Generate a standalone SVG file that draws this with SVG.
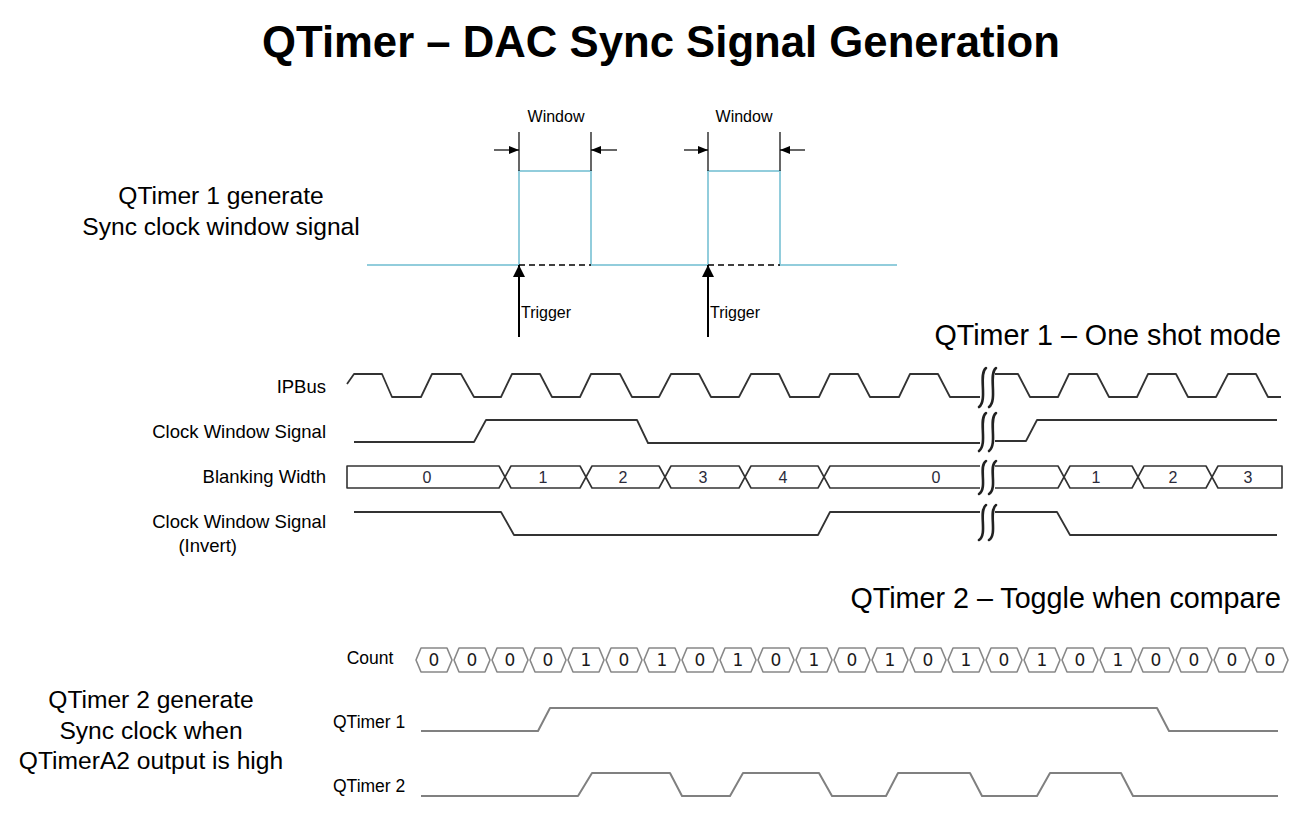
<svg xmlns="http://www.w3.org/2000/svg" width="1300" height="825" viewBox="0 0 1300 825">
<style>
text{font-family:"Liberation Sans",Arial,sans-serif;fill:#000}
.title{font-size:45px;font-weight:bold}
.big{font-size:24.6px;text-anchor:middle}
.mode{font-size:28.7px;text-anchor:end}
.lbl{font-size:18.5px;text-anchor:end}
.small{font-size:16px}
.wave{fill:none;stroke:#333;stroke-width:1.8;stroke-linejoin:round}
.wave2{fill:none;stroke:#808080;stroke-width:2;stroke-linejoin:round}
.hex{fill:#fff;stroke:#333;stroke-width:1.6;stroke-linejoin:round}
.chex{fill:#fff;stroke:#888;stroke-width:1.6;stroke-linejoin:round}
.dig{font-size:16px;text-anchor:middle;font-family:"Liberation Sans",Arial,sans-serif;fill:#2a2a3a}
.cdig{font-size:17px;text-anchor:middle;font-family:"DejaVu Sans",sans-serif;fill:#1a1a1a}
.brk{fill:none;stroke:#222;stroke-width:2.6;stroke-linecap:round}
.blue{fill:none;stroke:#92cddc;stroke-width:2}
.thin{stroke:#000;stroke-width:1.2}
.trig{stroke:#000;stroke-width:2}
</style>
<defs>
<marker id="ah" markerWidth="10" markerHeight="8" refX="10" refY="4" orient="auto" markerUnits="userSpaceOnUse"><path d="M0,0 L10,4 L0,8 Z" fill="#000"/></marker>
<marker id="ahT" markerWidth="12" markerHeight="14" refX="12" refY="6" orient="auto" markerUnits="userSpaceOnUse"><path d="M0,0 L12,6 L0,12 Z" fill="#000"/></marker>
</defs>
<rect width="1300" height="825" fill="#fff"/>

<g id="title"><text class="title" x="661" y="57" text-anchor="middle" textLength="798" lengthAdjust="spacingAndGlyphs">QTimer – DAC Sync Signal Generation</text></g>

<g id="desc1">
<text class="big" x="221" y="204">QTimer 1 generate</text>
<text class="big" x="221" y="235">Sync clock window signal</text>
</g>

<g id="window-signal">
<path class="blue" d="M367,265 H519 V171 H591 V265 H708 V171 H780 V265 H897"/>
<line x1="519" y1="265" x2="591" y2="265" stroke="#000" stroke-width="1.6" stroke-dasharray="6,4"/>
<line x1="708" y1="265" x2="780" y2="265" stroke="#000" stroke-width="1.6" stroke-dasharray="6,4"/>
<line class="thin" x1="519" y1="132" x2="519" y2="171"/>
<line class="thin" x1="591" y1="132" x2="591" y2="171"/>
<line class="thin" x1="708" y1="132" x2="708" y2="171"/>
<line class="thin" x1="780" y1="132" x2="780" y2="171"/>
<text class="small" x="556" y="122" text-anchor="middle">Window</text>
<text class="small" x="744" y="122" text-anchor="middle">Window</text>
</g>

<g id="connectors">
<line class="thin" x1="494" y1="150" x2="519" y2="150" marker-end="url(#ah)"/>
<line class="thin" x1="617" y1="150" x2="591" y2="150" marker-end="url(#ah)"/>
<line class="thin" x1="684" y1="150" x2="708" y2="150" marker-end="url(#ah)"/>
<line class="thin" x1="805" y1="150" x2="780" y2="150" marker-end="url(#ah)"/>
<line class="trig" x1="519" y1="337" x2="519" y2="265" marker-end="url(#ahT)"/>
<line class="trig" x1="708" y1="337" x2="708" y2="265" marker-end="url(#ahT)"/>
</g>
<g id="trigger-labels">
<text class="small" x="521" y="318">Trigger</text>
<text class="small" x="710" y="318">Trigger</text>
</g>

<g id="mode1"><text class="mode" x="1281" y="345">QTimer 1 – One shot mode</text></g>

<g id="labels1">
<text class="lbl" x="326" y="393">IPBus</text>
<text class="lbl" x="326" y="438">Clock Window Signal</text>
<text class="lbl" x="326" y="483">Blanking Width</text>
<text class="lbl" x="326" y="528">Clock Window Signal</text>
<text class="lbl" x="237" y="552" text-anchor="middle">(Invert)</text>
</g>

<g id="ipbus">
<path class="wave" d="M347,384 L354,374 L382,374 L392,397 L421,397 L432,374 L461,374 L474,397 L501,397 L512,374 L540,374 L552,397 L580,397 L591,374 L620,374 L632,397 L659,397 L671,374 L699,374 L711,397 L739,397 L751,374 L779,374 L790,397 L819,397 L830,374 L858,374 L870,397 L899,397 L910,374 L938,374 L950,397 L980,397"/>
<path class="wave" d="M995,374 L1018,374 L1030,397 L1058,397 L1069,374 L1097,374 L1109,397 L1137,397 L1148,374 L1176,374 L1188,397 L1216,397 L1228,374 L1256,374 L1268,397 L1281,397"/>
</g>

<g id="clock-window">
<path class="wave" d="M354,442 L474,442 L486,420 L637,420 L648,443 L980,443"/>
<path class="wave" d="M995,441 L1026,441 L1037,420 L1277,420"/>
</g>

<g id="blanking">
<path class="hex" d="M347,466 L499,466 L505,477 L499,488 L347,488 Z"/>
<path class="hex" d="M505,477 L511,466 L580,466 L586,477 L580,488 L511,488 Z"/>
<path class="hex" d="M586,477 L592,466 L659,466 L665,477 L659,488 L592,488 Z"/>
<path class="hex" d="M665,477 L671,466 L739,466 L745,477 L739,488 L671,488 Z"/>
<path class="hex" d="M745,477 L751,466 L818,466 L824,477 L818,488 L751,488 Z"/>
<path class="hex" d="M980,466 L830,466 L824,477 L830,488 L980,488"/>
<path class="hex" d="M995,466 L1058,466 L1064,477 L1058,488 L995,488"/>
<path class="hex" d="M1064,477 L1070,466 L1132,466 L1138,477 L1132,488 L1070,488 Z"/>
<path class="hex" d="M1138,477 L1144,466 L1206,466 L1212,477 L1206,488 L1144,488 Z"/>
<path class="hex" d="M1212,477 L1218,466 L1282,466 L1282,488 L1218,488 Z"/>
<text class="dig" x="427" y="483">0</text>
<text class="dig" x="543" y="483">1</text>
<text class="dig" x="623" y="483">2</text>
<text class="dig" x="703" y="483">3</text>
<text class="dig" x="783" y="483">4</text>
<text class="dig" x="936" y="483">0</text>
<text class="dig" x="1096" y="483">1</text>
<text class="dig" x="1173" y="483">2</text>
<text class="dig" x="1248" y="483">3</text>
</g>

<g id="clock-window-invert">
<path class="wave" d="M354,512 L501,512 L514,535 L818,535 L830,512 L980,512"/>
<path class="wave" d="M995,512 L1057,512 L1070,535 L1277,535"/>
</g>

<g id="break-marks">
<path class="brk" d="M986,368 C978,374 988,400 979,407"/>
<path class="brk" d="M996,368 C988,374 998,400 989,407"/>
<path class="brk" d="M986,413 C978,419 988,444 979,451"/>
<path class="brk" d="M996,413 C988,419 998,444 989,451"/>
<path class="brk" d="M986,461 C978,466 988,488 979,494"/>
<path class="brk" d="M996,461 C988,466 998,488 989,494"/>
<path class="brk" d="M986,505 C978,511 988,534 979,540"/>
<path class="brk" d="M996,505 C988,511 998,534 989,540"/>
</g>

<g id="mode2"><text class="mode" x="1281" y="608">QTimer 2 – Toggle when compare</text></g>

<g id="desc2">
<text class="big" x="151" y="708">QTimer 2 generate</text>
<text class="big" x="151" y="739">Sync clock when</text>
<text class="big" x="151" y="769">QTimerA2 output is high</text>
</g>

<g id="labels2">
<text x="370" y="664" font-size="17.5" text-anchor="middle">Count</text>
<text x="333" y="728" font-size="17.5">QTimer 1</text>
<text x="333" y="792" font-size="17.5">QTimer 2</text>
</g>

<g id="count">
<path class="chex" d="M416,660 L421,648 L447,648 L452,660 L447,672 L421,672 Z"/>
<path class="chex" d="M454,660 L459,648 L485,648 L490,660 L485,672 L459,672 Z"/>
<path class="chex" d="M492,660 L497,648 L523,648 L528,660 L523,672 L497,672 Z"/>
<path class="chex" d="M530,660 L535,648 L561,648 L566,660 L561,672 L535,672 Z"/>
<path class="chex" d="M568,660 L573,648 L599,648 L604,660 L599,672 L573,672 Z"/>
<path class="chex" d="M606,660 L611,648 L637,648 L642,660 L637,672 L611,672 Z"/>
<path class="chex" d="M644,660 L649,648 L675,648 L680,660 L675,672 L649,672 Z"/>
<path class="chex" d="M682,660 L687,648 L713,648 L718,660 L713,672 L687,672 Z"/>
<path class="chex" d="M720,660 L725,648 L751,648 L756,660 L751,672 L725,672 Z"/>
<path class="chex" d="M758,660 L763,648 L789,648 L794,660 L789,672 L763,672 Z"/>
<path class="chex" d="M796,660 L801,648 L827,648 L832,660 L827,672 L801,672 Z"/>
<path class="chex" d="M834,660 L839,648 L865,648 L870,660 L865,672 L839,672 Z"/>
<path class="chex" d="M872,660 L877,648 L903,648 L908,660 L903,672 L877,672 Z"/>
<path class="chex" d="M910,660 L915,648 L941,648 L946,660 L941,672 L915,672 Z"/>
<path class="chex" d="M948,660 L953,648 L979,648 L984,660 L979,672 L953,672 Z"/>
<path class="chex" d="M986,660 L991,648 L1017,648 L1022,660 L1017,672 L991,672 Z"/>
<path class="chex" d="M1024,660 L1029,648 L1055,648 L1060,660 L1055,672 L1029,672 Z"/>
<path class="chex" d="M1062,660 L1067,648 L1093,648 L1098,660 L1093,672 L1067,672 Z"/>
<path class="chex" d="M1100,660 L1105,648 L1131,648 L1136,660 L1131,672 L1105,672 Z"/>
<path class="chex" d="M1138,660 L1143,648 L1169,648 L1174,660 L1169,672 L1143,672 Z"/>
<path class="chex" d="M1176,660 L1181,648 L1207,648 L1212,660 L1207,672 L1181,672 Z"/>
<path class="chex" d="M1214,660 L1219,648 L1245,648 L1250,660 L1245,672 L1219,672 Z"/>
<path class="chex" d="M1252,660 L1257,648 L1283,648 L1288,660 L1283,672 L1257,672 Z"/>
<text class="cdig" x="434" y="666">0</text>
<text class="cdig" x="472" y="666">0</text>
<text class="cdig" x="510" y="666">0</text>
<text class="cdig" x="548" y="666">0</text>
<text class="cdig" x="586" y="666">1</text>
<text class="cdig" x="624" y="666">0</text>
<text class="cdig" x="662" y="666">1</text>
<text class="cdig" x="700" y="666">0</text>
<text class="cdig" x="738" y="666">1</text>
<text class="cdig" x="776" y="666">0</text>
<text class="cdig" x="814" y="666">1</text>
<text class="cdig" x="852" y="666">0</text>
<text class="cdig" x="890" y="666">1</text>
<text class="cdig" x="928" y="666">0</text>
<text class="cdig" x="966" y="666">1</text>
<text class="cdig" x="1004" y="666">0</text>
<text class="cdig" x="1042" y="666">1</text>
<text class="cdig" x="1080" y="666">0</text>
<text class="cdig" x="1118" y="666">1</text>
<text class="cdig" x="1156" y="666">0</text>
<text class="cdig" x="1194" y="666">0</text>
<text class="cdig" x="1232" y="666">0</text>
<text class="cdig" x="1270" y="666">0</text>
</g>

<g id="qtimer1-wave"><path class="wave2" d="M421,731 L538,731 L550,708 L1157,708 L1169,731 L1278,731"/></g>
<g id="qtimer2-wave"><path class="wave2" d="M421,796 L578,796 L592,773 L670,773 L682,796 L730,796 L743,773 L819,773 L832,796 L886,796 L898,773 L970,773 L982,796 L1037,796 L1050,773 L1121,773 L1133,796 L1278,796"/></g>
</svg>
